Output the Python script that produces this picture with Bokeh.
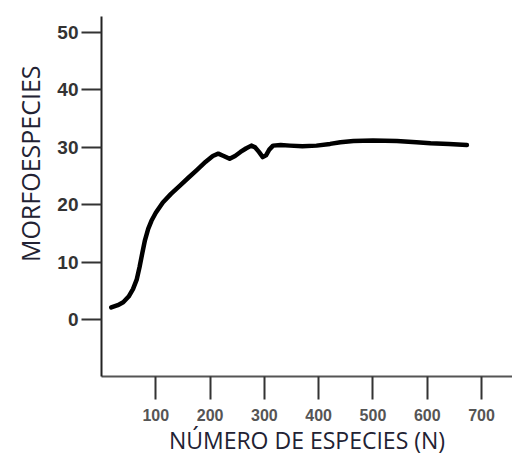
from bokeh.plotting import figure
from bokeh.models import Range1d, FixedTicker, Title
from bokeh.embed import file_html
from bokeh.resources import INLINE

# Accumulation curve: morphospecies vs. number of species sampled
n_species = [18, 30, 40, 50, 58, 65, 70, 75, 80, 86, 92, 100, 113, 128, 144,
             160, 175, 192, 205, 215, 225, 236, 246, 256, 266, 276, 283, 290,
             297, 303, 309, 316, 330, 347, 370, 396, 421, 440, 464, 500, 544,
             580, 606, 640, 673]
morphospecies = [2.1, 2.5, 3.0, 4.0, 5.3, 7.0, 9.1, 11.5, 13.8, 15.8, 17.2, 18.6,
                 20.4, 21.9, 23.3, 24.7, 26.0, 27.5, 28.5, 28.9, 28.5, 28.0, 28.5,
                 29.2, 29.8, 30.3, 30.0, 29.2, 28.3, 28.6, 29.6, 30.3, 30.4, 30.3,
                 30.2, 30.3, 30.6, 30.9, 31.1, 31.2, 31.1, 30.9, 30.7, 30.6, 30.4]

x_ticks = [100, 200, 300, 400, 500, 600, 700]
y_ticks = [0, 10, 20, 30, 40, 50]

p = figure(width=512, height=459, output_backend="svg", toolbar_location=None,
           x_range=Range1d(0, 757), y_range=Range1d(-9.93, 52.8),
           min_border_left=101, min_border_right=0, min_border_top=16,
           min_border_bottom=83)
p.outline_line_color = None
p.grid.grid_line_color = None
p.background_fill_color = "white"
p.border_fill_color = "white"

p.line(n_species, morphospecies, line_color="black", line_width=4.5,
       line_join="round", line_cap="round")

# x axis
xa = p.xaxis[0]
xa.ticker = FixedTicker(ticks=x_ticks)
xa.axis_line_color = "#555555"
xa.axis_line_width = 2
xa.major_tick_line_color = "#333333"
xa.major_tick_line_width = 2
xa.major_tick_out = 23
xa.major_tick_in = 0
xa.minor_tick_line_color = None
xa.major_label_text_font = "Liberation Sans"
xa.major_label_text_font_style = "bold"
xa.major_label_text_font_size = "16px"
xa.major_label_text_color = "#555555"
xa.major_label_standoff = 9
xa.axis_label = "NÚMERO DE ESPECIES (N)"
xa.axis_label_text_font = "Open Sans"
xa.axis_label_text_font_style = "normal"
xa.axis_label_text_font_size = "23px"
xa.axis_label_text_color = "#222233"
xa.axis_label_standoff = 0

# y axis
ya = p.yaxis[0]
ya.ticker = FixedTicker(ticks=y_ticks)
ya.axis_line_color = "#222222"
ya.axis_line_width = 2
ya.major_tick_line_color = "#333333"
ya.major_tick_line_width = 2
ya.major_tick_out = 20
ya.major_tick_in = 0
ya.minor_tick_line_color = None
ya.major_label_text_font = "Liberation Sans"
ya.major_label_text_font_style = "bold"
ya.major_label_text_font_size = "19px"
ya.major_label_text_color = "#333333"
ya.major_label_standoff = 3

# y-axis title, raised toward the top of the axis
p.add_layout(Title(text="MORFOESPECIES", align="right", offset=49,
                   standoff=16, text_font="Open Sans", text_font_size="25px",
                   text_font_style="normal", text_color="#222233"), "left")

open("out.html", "w").write(file_html(p, INLINE))
